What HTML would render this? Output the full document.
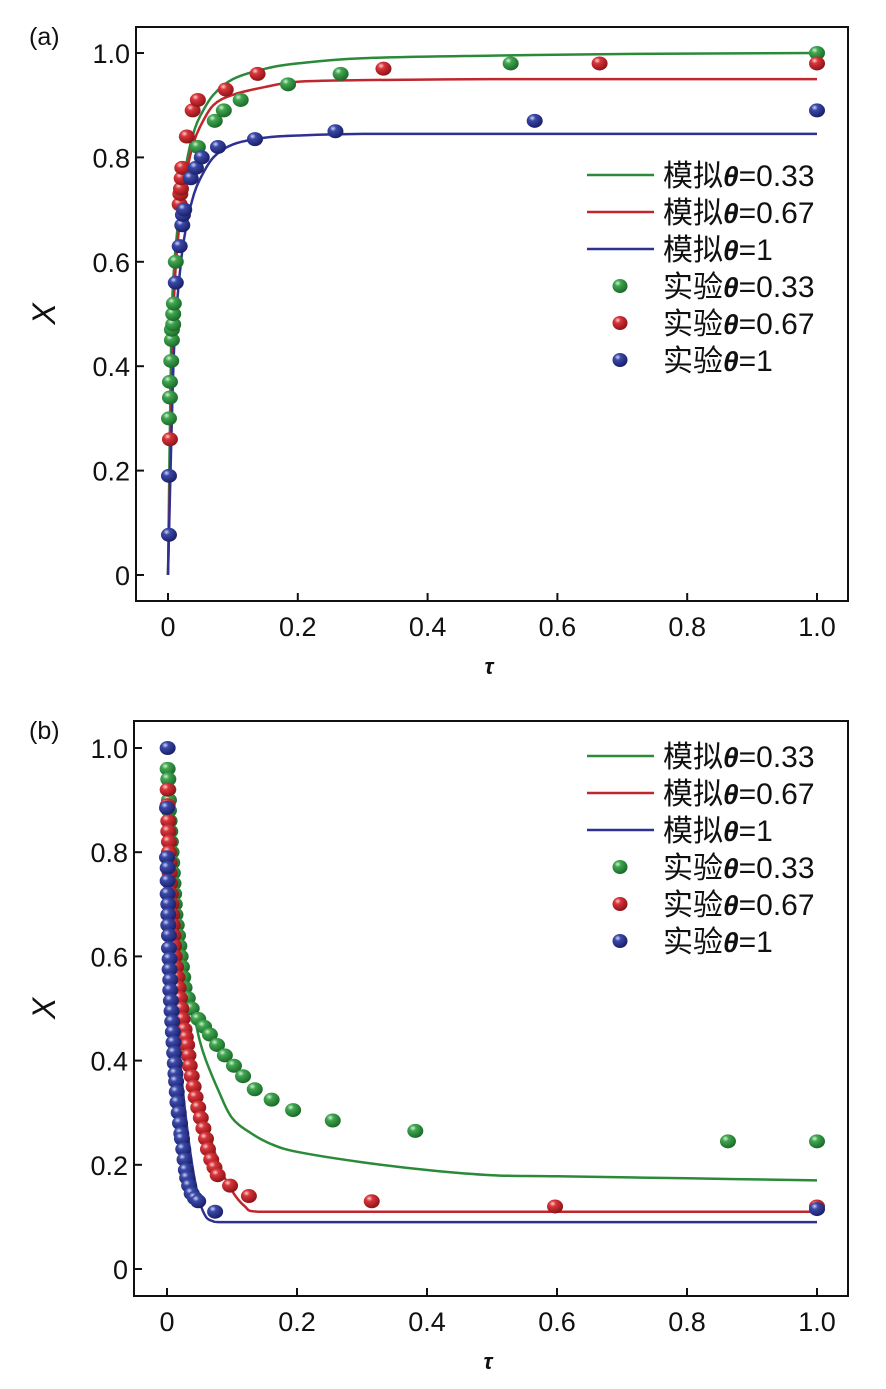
<!DOCTYPE html>
<html><head><meta charset="utf-8">
<style>
body{margin:0;background:#fff;}
svg{display:block;font-family:"Liberation Sans","Noto Sans CJK SC",sans-serif;}
</style></head>
<body>
<svg id="fig" width="886" height="1389" viewBox="0 0 886 1389">
<defs>
<radialGradient id="gG" cx="0.35" cy="0.3" r="0.7"><stop offset="0" stop-color="#d8f0d8"/><stop offset="0.3" stop-color="#3fa64f"/><stop offset="1" stop-color="#1c6a2a"/></radialGradient>
<radialGradient id="gR" cx="0.35" cy="0.3" r="0.7"><stop offset="0" stop-color="#f8d0d0"/><stop offset="0.3" stop-color="#d8343a"/><stop offset="1" stop-color="#8e1418"/></radialGradient>
<radialGradient id="gB" cx="0.35" cy="0.3" r="0.7"><stop offset="0" stop-color="#d0d4f4"/><stop offset="0.3" stop-color="#3a48a8"/><stop offset="1" stop-color="#1a2068"/></radialGradient>
</defs>
</svg>
<script>
// ---------- Panel (a) data ----------
const aTickX = [0,0.2,0.4,0.6,0.8,1.0];
const aTickXLabels = ["0","0.2","0.4","0.6","0.8","1.0"];
const aTickY = [0,0.2,0.4,0.6,0.8,1.0];
const aTickYLabels = ["0","0.2","0.4","0.6","0.8","1.0"];
const aSimT = [0,0.005,0.01,0.02,0.03,0.04,0.05,0.07,0.1,0.15,0.2,0.3,0.5,0.7,1.0];
const aSimGreen = [0,0.45,0.6,0.72,0.8,0.85,0.88,0.92,0.95,0.97,0.98,0.99,0.995,0.998,1.0];
const aSimRed = [0,0.3,0.55,0.7,0.78,0.83,0.86,0.9,0.92,0.935,0.945,0.948,0.95,0.95,0.95];
const aSimBlue = [0,0.25,0.45,0.6,0.68,0.73,0.76,0.8,0.825,0.838,0.842,0.845,0.845,0.845,0.845];
const aExpGreenT = [0.0015,0.003,0.003,0.005,0.006,0.006,0.008,0.008,0.009,0.012,0.046,0.072,0.086,0.112,0.185,0.266,0.528,1.0];
const aExpGreenX = [0.30,0.34,0.37,0.41,0.45,0.47,0.48,0.50,0.52,0.60,0.82,0.87,0.89,0.91,0.94,0.96,0.98,1.0];
const aExpRedT = [0.003,0.018,0.019,0.02,0.021,0.022,0.029,0.038,0.046,0.089,0.138,0.332,0.665,1.0];
const aExpRedX = [0.26,0.71,0.73,0.74,0.76,0.78,0.84,0.89,0.91,0.93,0.96,0.97,0.98,0.98];
const aExpBlueT = [0.0015,0.0015,0.012,0.018,0.022,0.023,0.025,0.035,0.043,0.052,0.077,0.134,0.258,0.565,1.0];
const aExpBlueX = [0.077,0.19,0.56,0.63,0.67,0.69,0.70,0.76,0.78,0.80,0.82,0.835,0.85,0.87,0.89];

// ---------- Panel (b) data ----------
const bTickX = [0,0.2,0.4,0.6,0.8,1.0];
const bTickXLabels = ["0","0.2","0.4","0.6","0.8","1.0"];
const bTickY = [0,0.2,0.4,0.6,0.8,1.0];
const bTickYLabels = ["0","0.2","0.4","0.6","0.8","1.0"];
const bSimGreenT = [0,0.005,0.01,0.02,0.03,0.04,0.05,0.06,0.08,0.1,0.13,0.16,0.2,0.3,0.4,0.5,0.6,0.8,1.0];
const bSimGreenX = [0.95,0.84,0.76,0.66,0.57,0.5,0.44,0.4,0.34,0.29,0.26,0.24,0.225,0.205,0.19,0.18,0.178,0.174,0.17];
const bSimRedT = [0,0.005,0.01,0.02,0.03,0.04,0.05,0.06,0.08,0.1,0.12,0.14,0.3,1.0];
const bSimRedX = [0.95,0.8,0.68,0.55,0.46,0.39,0.33,0.28,0.2,0.15,0.12,0.11,0.11,0.11];
const bSimBlueT = [0,0.005,0.01,0.02,0.03,0.04,0.05,0.06,0.07,0.08,0.3,1.0];
const bSimBlueX = [0.95,0.75,0.58,0.4,0.28,0.19,0.13,0.1,0.092,0.09,0.09,0.09];
const bExpGreenT = [0.001,0.002,0.002,0.003,0.003,0.004,0.005,0.006,0.007,0.008,0.009,0.010,0.011,0.012,0.013,0.015,0.017,0.019,0.021,0.023,0.025,0.027,0.032,0.038,0.048,0.057,0.066,0.077,0.089,0.103,0.117,0.135,0.161,0.194,0.255,0.382,0.863,1.0];
const bExpGreenX = [0.96,0.94,0.92,0.90,0.88,0.86,0.84,0.82,0.80,0.78,0.76,0.74,0.72,0.70,0.68,0.66,0.64,0.62,0.60,0.58,0.56,0.54,0.52,0.50,0.48,0.465,0.45,0.43,0.41,0.39,0.37,0.345,0.325,0.305,0.285,0.265,0.245,0.245];
const bExpRedT = [0.001,0.001,0.002,0.002,0.003,0.003,0.004,0.004,0.005,0.006,0.007,0.008,0.009,0.010,0.011,0.012,0.014,0.016,0.018,0.020,0.022,0.024,0.027,0.029,0.031,0.033,0.035,0.038,0.041,0.044,0.048,0.052,0.056,0.060,0.063,0.068,0.073,0.078,0.097,0.126,0.315,0.597,1.0];
const bExpRedX = [0.92,0.89,0.86,0.84,0.82,0.80,0.78,0.76,0.74,0.72,0.70,0.68,0.66,0.64,0.62,0.60,0.58,0.56,0.54,0.52,0.50,0.48,0.46,0.445,0.43,0.41,0.39,0.37,0.35,0.33,0.31,0.29,0.27,0.25,0.23,0.21,0.195,0.18,0.16,0.14,0.13,0.12,0.12];
const bExpBlueT = [0.001,0.0,0.0,0.001,0.001,0.001,0.002,0.002,0.002,0.003,0.003,0.004,0.004,0.005,0.005,0.006,0.007,0.008,0.009,0.010,0.011,0.012,0.013,0.014,0.015,0.016,0.018,0.020,0.022,0.023,0.025,0.027,0.029,0.031,0.034,0.038,0.043,0.048,0.074,1.0];
const bExpBlueX = [1.0,0.885,0.79,0.77,0.745,0.72,0.70,0.68,0.66,0.64,0.616,0.595,0.575,0.555,0.535,0.515,0.495,0.475,0.455,0.435,0.415,0.395,0.375,0.36,0.34,0.32,0.30,0.28,0.26,0.25,0.23,0.21,0.19,0.175,0.16,0.145,0.136,0.13,0.11,0.115];

const NS = "http://www.w3.org/2000/svg";
const svg = document.getElementById('fig');
function mk(tag, attrs, parent){
  const e = document.createElementNS(NS, tag);
  for (const k in attrs) e.setAttribute(k, attrs[k]);
  (parent||svg).appendChild(e);
  return e;
}
const colors = {g:"#2a8a3a", r:"#c0272d", b:"#2e3192"};
const grads = {g:"url(#gG)", r:"url(#gR)", b:"url(#gB)"};

function smoothPath(p){
  let d = 'M'+p[0][0].toFixed(1)+','+p[0][1].toFixed(1);
  for(let i=0;i<p.length-1;i++){
    const p0=p[Math.max(0,i-1)], p1=p[i], p2=p[i+1], p3=p[Math.min(p.length-1,i+2)];
    let c1x=p1[0]+(p2[0]-p0[0])/6, c1y=p1[1]+(p2[1]-p0[1])/6;
    let c2x=p2[0]-(p3[0]-p1[0])/6, c2y=p2[1]-(p3[1]-p1[1])/6;
    // clamp control y to segment range to avoid overshoot
    const lo=Math.min(p1[1],p2[1]), hi=Math.max(p1[1],p2[1]);
    c1y=Math.min(hi,Math.max(lo,c1y)); c2y=Math.min(hi,Math.max(lo,c2y));
    const lx=Math.min(p1[0],p2[0]), hx=Math.max(p1[0],p2[0]);
    c1x=Math.min(hx,Math.max(lx,c1x)); c2x=Math.min(hx,Math.max(lx,c2x));
    d+=' C'+c1x.toFixed(1)+','+c1y.toFixed(1)+' '+c2x.toFixed(1)+','+c2y.toFixed(1)+' '+p2[0].toFixed(1)+','+p2[1].toFixed(1);
  }
  return d;
}

function panel(P, d){
  const sx = v => P.x0 + v*(P.x1-P.x0);
  const sy = v => P.y0 - v*(P.y0-P.y1);
  const g = mk('g', {});
  
  
  const frame = mk('rect', {x:P.L, y:P.T, width:P.R-P.L, height:P.B-P.T, fill:'none', stroke:'#111', 'stroke-width':2}, g);
  
  
  d.tx.forEach((v,i)=>{
    const t = mk('line',{x1:sx(v),x2:sx(v),y1:P.B,y2:P.B-8,stroke:'#111','stroke-width':2},g);
    
    
    const l = mk('text',{x:sx(v),y:P.B+35,'font-size':27,'text-anchor':'middle',fill:'#111'},g);
    l.textContent = d.txl[i];
    
    
  });
  d.ty.forEach((v,i)=>{
    const t = mk('line',{x1:P.L,x2:P.L+8,y1:sy(v),y2:sy(v),stroke:'#111','stroke-width':2},g);
    
    
    const l = mk('text',{x:P.L-6,y:sy(v)+10,'font-size':27,'text-anchor':'end',fill:'#111'},g);
    l.textContent = d.tyl[i];
    
    
  });
  const xl = mk('text',{x:(P.L+P.R)/2-3,y:P.B+73,'font-size':22,'font-style':'italic','font-weight':'bold','text-anchor':'middle',fill:'#111'},g);
  xl.textContent = 'τ';
  
  
  const yl = mk('text',{x:0,y:0,'font-size':32,'font-style':'italic','text-anchor':'middle',fill:'#111',transform:`translate(55,${(P.T+P.B)/2}) rotate(-90)`},g);
  yl.textContent = 'X';
  
  
  const pl = mk('text',{x:29,y:P.T+18,'font-size':25,fill:'#111'},g);
  pl.textContent = P.label;
  
  
  d.sims.forEach(s=>{
    const pts = s.t.map((t,i)=>[sx(t), sy(s.x[i])]);
    const p = mk('path',{d:smoothPath(pts),fill:'none',stroke:colors[s.c],'stroke-width':2.5,'stroke-linejoin':'round'},g);
    
    
  });
  d.exps.forEach(s=>{
    s.t.forEach((t,i)=>{
      const c = mk('ellipse',{cx:sx(t),cy:sy(s.x[i]),rx:8,ry:7,fill:grads[s.c]},g);
      
      
    });
  });
  const names = ['模拟','模拟','模拟','实验','实验','实验'];
  const vals = ['=0.33','=0.67','=1','=0.33','=0.67','=1'];
  const cs = ['g','r','b','g','r','b'];
  for(let i=0;i<6;i++){
    const y = P.legY + i*37;
    if(i<3){
      const ln = mk('line',{x1:587,x2:654,y1:y,y2:y,stroke:colors[cs[i]],'stroke-width':2.5},g);
      
      
    } else {
      const m = mk('ellipse',{cx:620,cy:y,rx:7.5,ry:7,fill:grads[cs[i]]},g);
      
      
    }
    const tx = mk('text',{x:663,y:y+11,'font-size':30,fill:'#111'},g);
    
    
    const s1 = mk('tspan',{},tx); s1.textContent = names[i];
    const s2 = mk('tspan',{'font-style':'italic','font-weight':'bold','font-size':28},tx); s2.textContent = 'θ';
    const s3 = mk('tspan',{},tx); s3.textContent = vals[i];
  }
}

panel({name:'panel-a',label:'(a)',L:136,R:848,T:27,B:601,x0:168,x1:817,y0:575,y1:53,legY:175},
 {tx:aTickX,txl:aTickXLabels,ty:aTickY,tyl:aTickYLabels,
  sims:[{n:'green',c:'g',t:aSimT,x:aSimGreen},{n:'red',c:'r',t:aSimT,x:aSimRed},{n:'blue',c:'b',t:aSimT,x:aSimBlue}],
  exps:[{n:'green',c:'g',t:aExpGreenT,x:aExpGreenX},{n:'red',c:'r',t:aExpRedT,x:aExpRedX},{n:'blue',c:'b',t:aExpBlueT,x:aExpBlueX}]});

panel({name:'panel-b',label:'(b)',L:134,R:848,T:721,B:1296,x0:167,x1:817,y0:1269,y1:748,legY:756},
 {tx:bTickX,txl:bTickXLabels,ty:bTickY,tyl:bTickYLabels,
  sims:[{n:'green',c:'g',t:bSimGreenT,x:bSimGreenX},{n:'red',c:'r',t:bSimRedT,x:bSimRedX},{n:'blue',c:'b',t:bSimBlueT,x:bSimBlueX}],
  exps:[{n:'green',c:'g',t:bExpGreenT,x:bExpGreenX},{n:'red',c:'r',t:bExpRedT,x:bExpRedX},{n:'blue',c:'b',t:bExpBlueT,x:bExpBlueX}]});
</script>
</body></html>
